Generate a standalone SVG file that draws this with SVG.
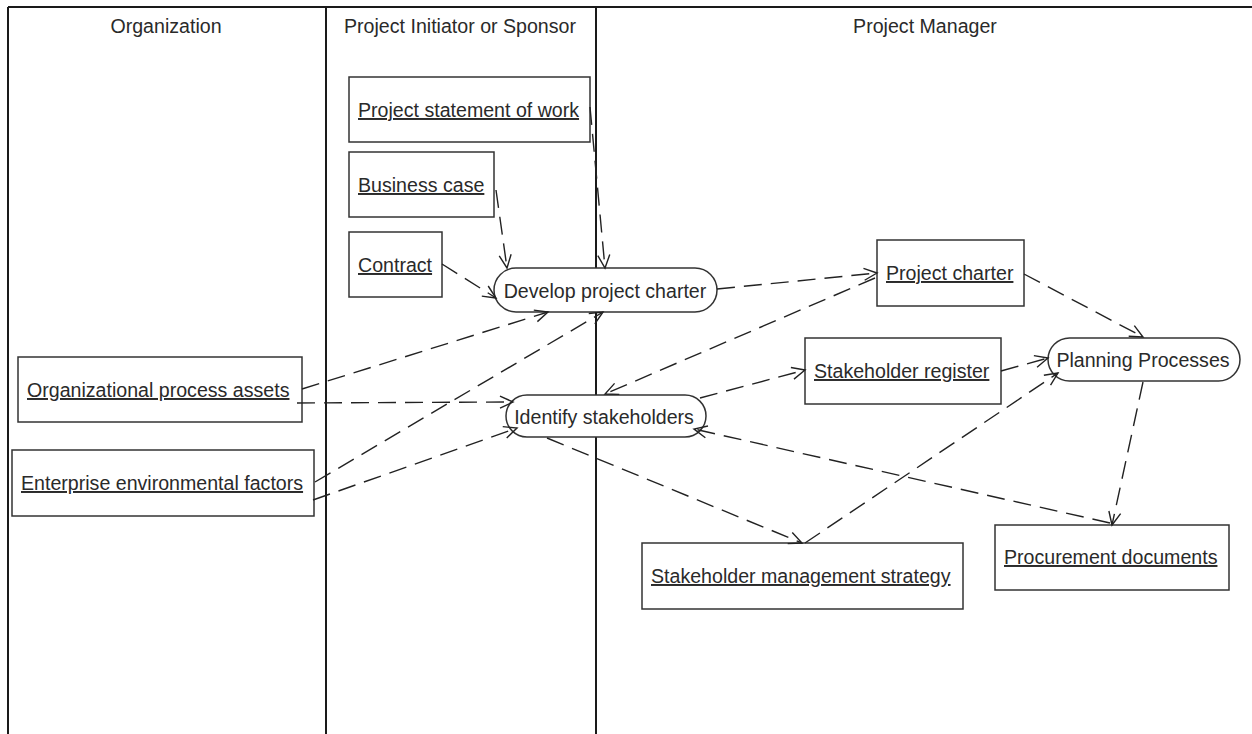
<svg xmlns="http://www.w3.org/2000/svg" width="1252" height="734" viewBox="0 0 1252 734">
<style>
text{font-family:"Liberation Sans",Arial,sans-serif;font-size:19.6px;fill:#2a2a2a}
.u{text-decoration:underline}
.c{text-anchor:middle}
.box{fill:#fff;stroke:#333;stroke-width:1.5}
.lane{stroke:#1a1a1a;stroke-width:2;fill:none}
.conn path{fill:none;stroke:#222;stroke-width:1.4;stroke-dasharray:18 9;marker-end:url(#arr)}
</style>
<defs>
<marker id="arr" markerUnits="userSpaceOnUse" markerWidth="16" markerHeight="16" viewBox="-1 -8 16 16" refX="13" refY="0" orient="auto">
<path d="M0,-6 L13,0 L0,6" fill="none" stroke="#222" stroke-width="1.4" stroke-dasharray="none"/>
</marker>
</defs>
<rect width="1252" height="734" fill="#fff"/>
<g id="lanes">
<path class="lane" d="M8,7 H1252" stroke="#555"/>
<path class="lane" d="M8,7 V734"/>
<path class="lane" d="M326,7 V734"/>
<path class="lane" d="M596,7 V734"/>
<text x="166" y="33" class="c">Organization</text>
<text x="460" y="33" class="c">Project Initiator or Sponsor</text>
<text x="925" y="33" class="c">Project Manager</text>
</g>
<g id="n-psow"><rect class="box" x="349" y="77" width="241" height="65"/><text x="358" y="117" class="u">Project statement of work</text></g>
<g id="n-bc"><rect class="box" x="349" y="152" width="145" height="65"/><text x="358" y="192" class="u">Business case</text></g>
<g id="n-contract"><rect class="box" x="349" y="232" width="93" height="65"/><text x="358" y="272" class="u">Contract</text></g>
<g id="n-dpc"><rect class="box" x="494" y="268" width="223" height="44" rx="22"/><text x="605" y="298" class="c">Develop project charter</text></g>
<g id="n-opa"><rect class="box" x="18" y="357" width="284" height="65"/><text x="27" y="397" class="u">Organizational process assets</text></g>
<g id="n-eef"><rect class="box" x="12" y="450" width="302" height="66"/><text x="21" y="490" class="u">Enterprise environmental factors</text></g>
<g id="n-is"><rect class="box" x="506" y="395" width="200" height="42" rx="21"/><text x="604" y="424" class="c">Identify stakeholders</text></g>
<g id="n-pc"><rect class="box" x="877" y="240" width="147" height="66"/><text x="886" y="280" class="u">Project charter</text></g>
<g id="n-sr"><rect class="box" x="805" y="338" width="196" height="66"/><text x="814" y="378" class="u">Stakeholder register</text></g>
<g id="n-pp"><rect class="box" x="1048" y="338" width="192" height="43" rx="21.5"/><text x="1143" y="367" class="c">Planning Processes</text></g>
<g id="n-proc"><rect class="box" x="995" y="525" width="234" height="65"/><text x="1004" y="564" class="u">Procurement documents</text></g>
<g id="n-sms"><rect class="box" x="642" y="543" width="321" height="66"/><text x="651" y="583" class="u">Stakeholder management strategy</text></g>
<g id="connectors" class="conn">
<path d="M590,107 L605,268"/>
<path d="M496,190 L507,268"/>
<path d="M442,264 L496,298"/>
<path d="M302,389 L548,312"/>
<path d="M297,403 L513,402"/>
<path d="M315,482 L603,312"/>
<path d="M313,500 L517,428"/>
<path d="M717,289 L877,273"/>
<path d="M875,278 L605,394"/>
<path d="M700,398 L805,370"/>
<path d="M547,438 L802,543"/>
<path d="M805,543 L1058,373"/>
<path d="M1024,274 L1143,337"/>
<path d="M1001,371 L1048,358"/>
<path d="M1143,382 L1112,525"/>
<path d="M1110,523 L694,429"/>
</g>
</svg>
